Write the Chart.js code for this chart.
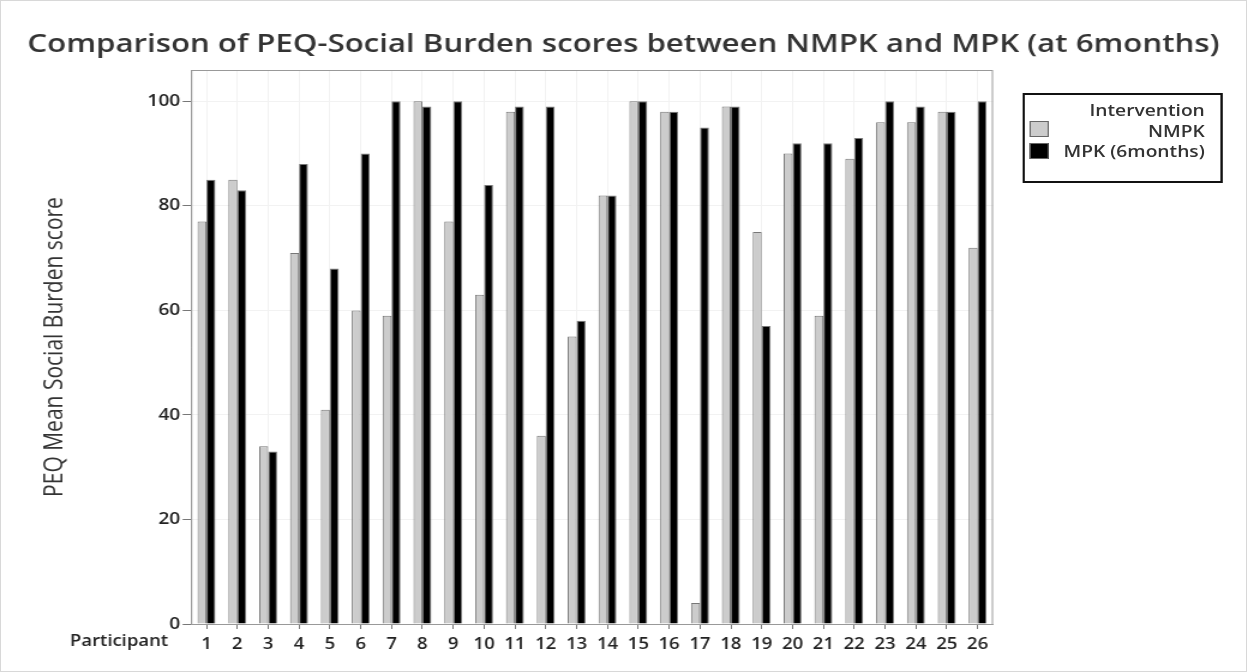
<!DOCTYPE html>
<html>
<head>
<meta charset="utf-8">
<script src="https://cdn.jsdelivr.net/npm/chart.js@4.4.1/dist/chart.umd.min.js"></script>
<style>
  html, body { margin: 0; padding: 0; background: #fff; }
  #wrap { position: relative; width: 1247px; height: 672px; box-sizing: border-box; border: 1px solid #d8d8d8; overflow: hidden; }
  /* the source image is a horizontally stretched export, so draw narrow and stretch */
  #stage { position: absolute; left: -1px; top: -1px; width: 1039px; height: 672px; transform: scaleX(1.2); transform-origin: 0 0; }
  #chart { position: absolute; left: 0; top: 0; }
  #legend {
    position: absolute; left: 852px; top: 93px; width: 167px; height: 90px;
    box-sizing: border-box; border: 2px solid #111; font-family: "Open Sans", sans-serif;
    font-size: 16px; line-height: 20px; font-weight: 600; color: #333;
  }
  #legend .row { position: absolute; right: 13px; white-space: nowrap; }
  #legend .box { position: absolute; left: 4px; width: 16px; height: 16px; box-sizing: border-box; border: 1px solid #666; }
</style>
</head>
<body>
<div id="wrap">
  <div id="stage">
    <canvas id="chart" width="1039" height="672"></canvas>
    <div id="legend">
      <div class="row" style="top:5px">Intervention</div>
      <div class="box" style="top:26px;background:#cccccc"></div>
      <div class="row" style="top:26px">NMPK</div>
      <div class="box" style="top:48px;background:#000"></div>
      <div class="row" style="top:46px">MPK (6months)</div>
    </div>
  </div>
</div>
<script>
const participants = ['1','2','3','4','5','6','7','8','9','10','11','12','13','14','15','16','17','18','19','20','21','22','23','24','25','26'];
const nmpkScores = [77, 85, 34, 71, 41, 60, 59, 100, 77, 63, 98, 36, 55, 82, 100, 98, 4, 99, 75, 90, 59, 89, 96, 96, 98, 72];
const mpkScores = [85, 83, 33, 88, 68, 90, 100, 99, 100, 84, 99, 99, 58, 82, 100, 98, 95, 99, 57, 92, 92, 93, 100, 99, 98, 100];
const yTicks = [0, 20, 40, 60, 80, 100];
const chartTitle = 'Comparison of PEQ-Social Burden scores between NMPK and MPK (at 6months)';

const textBits = {
    id: 'textBits',
    afterDraw(chart) {
        const ctx = chart.ctx;
        const xs = chart.scales.x;
        ctx.save();
        ctx.fillStyle = '#333';
        ctx.textAlign = 'center';
        ctx.textBaseline = 'middle';
        ctx.font = '600 26px "Open Sans", sans-serif';
        ctx.fillText(chartTitle, chart.width / 2, 45);

        ctx.font = '600 15.4px "Open Sans", sans-serif';
        ctx.fillStyle = '#222';
        ctx.textAlign = 'right';
        ctx.fillText('Participant', 140, xs.top + 18);

        // plot frame
        const a = chart.chartArea;
        ctx.strokeStyle = '#999';
        ctx.lineWidth = 1;
        ctx.strokeRect(a.left + 0.5, a.top + 0.5, a.right - a.left - 1, a.bottom - a.top);
        ctx.restore();
    }
};

new Chart(document.getElementById('chart'), {
    type: 'bar',
    data: {
        labels: participants,
        datasets: [
            {
                label: 'NMPK',
                data: nmpkScores,
                backgroundColor: '#cccccc',
                borderColor: '#777',
                borderWidth: 1,
                categoryPercentage: 0.58,
                barPercentage: 1
            },
            {
                label: 'MPK (6months)',
                data: mpkScores,
                backgroundColor: '#000',
                borderColor: '#777',
                borderWidth: 1,
                categoryPercentage: 0.58,
                barPercentage: 1
            }
        ]
    },
    options: {
        responsive: false,
        animation: false,
        layout: { padding: { left: 0, right: 211.5, top: 70, bottom: 0 } },
        plugins: {
            legend: { display: false },
            tooltip: { enabled: false },
            title: { display: false }
        },
        scales: {
            x: {
                offset: true,
                afterFit: s => { s.height = 48; },
                grid: { color: '#f2f2f2', tickLength: 5, tickColor: '#777', offset: false },
                border: { color: '#999', width: 1 },
                ticks: {
                    color: '#222',
                    padding: 6,
                    maxRotation: 0,
                    autoSkip: false,
                    font: { family: '"Open Sans", sans-serif', size: 15.4, weight: '600' }
                }
            },
            y: {
                min: 0,
                max: 106,
                afterFit: s => { s.width = 159.2; },
                afterBuildTicks: s => { s.ticks = yTicks.map(v => ({ value: v })); },
                grid: { color: '#f2f2f2', tickLength: 7, tickColor: '#777' },
                border: { color: '#999', width: 1 },
                ticks: {
                    color: '#222',
                    padding: 2,
                    font: { family: '"Open Sans", sans-serif', size: 16, weight: '600' }
                },
                title: {
                    display: true,
                    text: 'PEQ Mean Social Burden score',
                    color: '#333',
                    padding: { top: 33, bottom: 0 },
                    font: { family: '"Open Sans", sans-serif', size: 21 }
                }
            }
        }
    },
    plugins: [textBits]
});
</script>
</body>
</html>
